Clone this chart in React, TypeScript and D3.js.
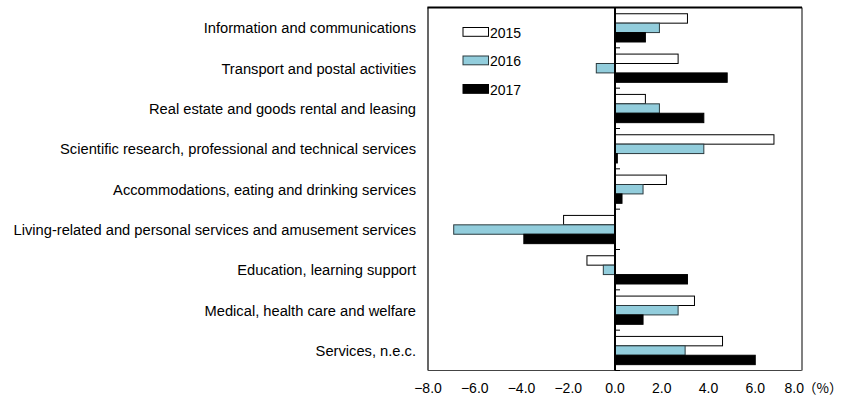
import React from "react";
import * as d3 from "d3";

const categories = [
  "Information and communications",
  "Transport and postal activities",
  "Real estate and goods rental and leasing",
  "Scientific research, professional and technical services",
  "Accommodations, eating and drinking services",
  "Living-related and personal services and amusement services",
  "Education, learning support",
  "Medical, health care and welfare",
  "Services, n.e.c.",
];
const seriesNames = ["2015", "2016", "2017"];
const values2015 = [3.1, 2.7, 1.3, 6.8, 2.2, -2.2, -1.2, 3.4, 4.6];
const values2016 = [1.9, -0.8, 1.9, 3.8, 1.2, -6.9, -0.5, 2.7, 3.0];
const values2017 = [1.3, 4.8, 3.8, 0.1, 0.3, -3.9, 3.1, 1.2, 6.0];
const xTicks = [-8, -6, -4, -2, 0, 2, 4, 6, 8];

const seriesValues = [values2015, values2016, values2017];
const fills = ["#ffffff", "#92cddc", "#000000"];
const strokes = ["#000000", "#2b3a3e", "#000000"];

const W = 842;
const H = 400;
const plot = { left: 428, right: 802, top: 7.5, bottom: 370.5 };
const FONT = "'Liberation Sans', Arial, sans-serif";

export default function App() {
  const x = d3.scaleLinear().domain([-8, 8]).range([plot.left, plot.right]);
  const y = d3.scaleBand<string>().domain(categories).range([plot.top, plot.bottom]).padding(0);
  const bw = y.bandwidth();
  const inner = d3
    .scaleBand<string>()
    .domain(seriesNames)
    .range([bw * 0.155, bw * 0.855])
    .padding(0);
  const x0 = x(0);
  const boundaries = d3.range(categories.length + 1).map((i) => plot.top + i * bw);

  return (
    <svg
      width={W}
      height={H}
      style={{ position: "absolute", left: 0, top: 0, display: "block", background: "#fff" }}
      fontFamily={FONT}
    >
      <rect x={0} y={0} width={W} height={H} fill="#fff" />
      {/* bars */}
      {categories.map((c, ci) => (
        <g key={c}>
          {seriesNames.map((s, si) => {
            const v = seriesValues[si][ci];
            const xa = x(Math.min(0, v));
            const xb = x(Math.max(0, v));
            return (
              <rect
                key={s}
                x={xa}
                y={(y(c) as number) + (inner(s) as number)}
                width={Math.max(0.5, xb - xa)}
                height={inner.bandwidth()}
                fill={fills[si]}
                stroke={strokes[si]}
                strokeWidth={1}
              />
            );
          })}
        </g>
      ))}
      {/* frame */}
      <line x1={plot.left} x2={plot.left} y1={plot.top} y2={plot.bottom} stroke="#000" strokeWidth={1.2} />
      <line x1={plot.left} x2={plot.right} y1={plot.bottom} y2={plot.bottom} stroke="#444" strokeWidth={1.2} />
      <line x1={plot.right} x2={plot.right} y1={plot.top} y2={plot.bottom} stroke="#808080" strokeWidth={2} />
      <line x1={plot.left - 0.6} x2={plot.right} y1={plot.top} y2={plot.top} stroke="#000" strokeWidth={2} />
      {/* zero axis */}
      <line x1={x0} x2={x0} y1={plot.top} y2={plot.bottom} stroke="#000" strokeWidth={2} />
      {boundaries.map((b, i) => (
        <line key={i} x1={x0} x2={x0 + 5} y1={b} y2={b} stroke="#000" strokeWidth={1} />
      ))}
      {/* category labels */}
      {categories.map((c) => (
        <text
          key={c}
          x={416}
          y={(y(c) as number) + bw / 2 + 5.5}
          textAnchor="end"
          fontSize={14.7}
          fill="#000"
        >
          {c}
        </text>
      ))}
      {/* x tick labels */}
      {xTicks.map((t, i) => (
        <text
          key={t}
          x={i === xTicks.length - 1 ? x(t) + 2 : x(t)}
          y={392.5}
          textAnchor={i === xTicks.length - 1 ? "end" : "middle"}
          fontSize={14}
          fill="#000"
        >
          {(t < 0 ? "\u2212" : "") + Math.abs(t).toFixed(1)}
        </text>
      ))}
      <text x={x(8) + 1} y={392.5} fontSize={13.5} fill="#000" fontFamily="'Noto Sans CJK JP', sans-serif">
        （%）
      </text>
      {/* legend */}
      {seriesNames.map((s, i) => (
        <g key={s} transform={`translate(463, ${27.5 + i * 28.5})`}>
          <rect x={0} y={0} width={25.5} height={8.8} fill={fills[i]} stroke={strokes[i]} strokeWidth={1} />
          <text x={27} y={10} fontSize={14} fill="#000">
            {s}
          </text>
        </g>
      ))}
    </svg>
  );
}
